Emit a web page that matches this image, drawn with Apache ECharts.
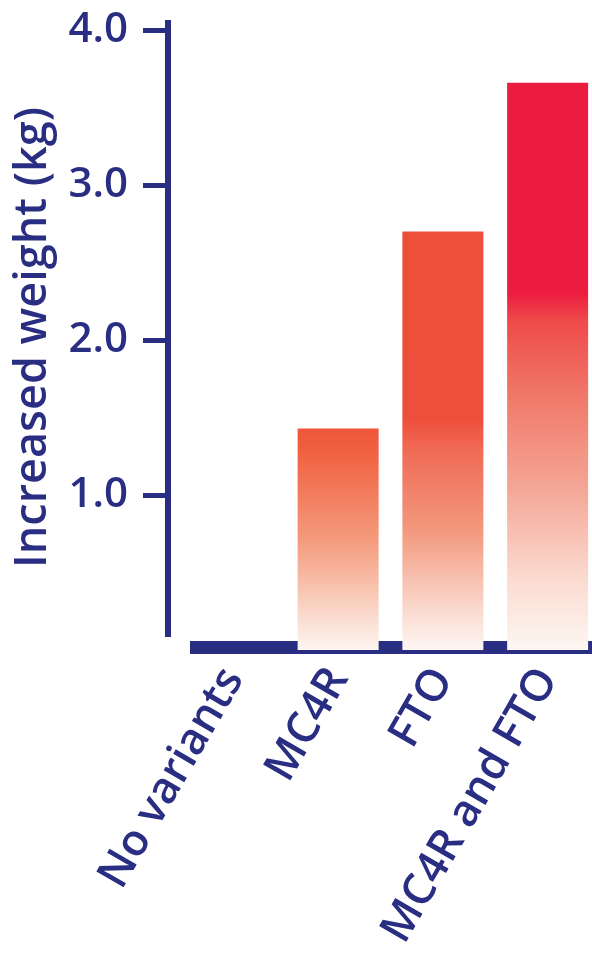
<!DOCTYPE html>
<html>
<head>
<meta charset="utf-8">
<script src="https://cdn.jsdelivr.net/npm/echarts@6/dist/echarts.min.js"></script>
<style>
html,body{margin:0;padding:0;background:#fff;}
#chart{width:592px;height:959px;}
</style>
</head>
<body>
<div id="chart"></div>
<script>
const categories = ['No variants', 'MC4R', 'FTO', 'MC4R and FTO'];
const weightGain = [0, 1.43, 2.70, 3.66];
const yTickValues = [1, 2, 3, 4];
const yAxisTitle = 'Increased weight (kg)';

const NAVY = '#2a2e82';
const FONT = '"Open Sans", "DejaVu Sans", sans-serif';

// gradient stops per bar (top -> bottom)
const barGradients = [
  [[0, '#ef553a'], [1, '#fdf7f3']],
  [[0, '#ef553a'], [0.1, '#f0603f'], [0.5, '#f49a7c'], [0.8, '#f9d2c2'], [1, '#fdf6f2']],
  [[0, '#ee4f3a'], [0.45, '#ee4f3c'], [0.52, '#f06a55'], [0.72, '#f39a80'], [0.9, '#fad8cc'], [1, '#fdf7f3']],
  [[0, '#ec1c40'], [0.37, '#ec1c40'], [0.42, '#ee4a4a'], [0.55, '#f07868'], [0.72, '#f4a898'], [0.88, '#fbdcd2'], [1, '#fdf7f3']]
];

const barData = weightGain.map((v, i) => ({
  value: v,
  itemStyle: {
    color: {
      type: 'linear', x: 0, y: 0, x2: 0, y2: 1,
      colorStops: barGradients[i].map(s => ({ offset: s[0], color: s[1] }))
    }
  }
}));

const chart = echarts.init(document.getElementById('chart'), null, { renderer: 'canvas' });
chart.setOption({
  backgroundColor: '#ffffff',
  animation: false,
  grid: [
    { left: 181, width: 419, top: 20, bottom: 309, outerBoundsMode: 'none', containLabel: false },  // main plot
    { left: 168, width: 1, top: 20, bottom: 322, outerBoundsMode: 'none', containLabel: false },    // y axis line + title
    { left: 190, right: 0, top: 600, bottom: 312, outerBoundsMode: 'none', containLabel: false }    // baseline band
  ],
  xAxis: [
    {
      gridIndex: 0, type: 'category', data: categories,
      axisLine: { show: false }, axisTick: { show: false },
      axisLabel: {
        rotate: 60, margin: 22, color: NAVY, fontFamily: FONT,
        fontSize: 44, fontWeight: 600, interval: 0
      }
    },
    { gridIndex: 1, type: 'value', show: false },
    {
      gridIndex: 2, type: 'value', position: 'bottom',
      axisLine: { show: true, lineStyle: { color: NAVY, width: 13, cap: 'butt' } },
      axisTick: { show: false }, axisLabel: { show: false }, splitLine: { show: false }
    }
  ],
  yAxis: [
    {
      gridIndex: 0, type: 'value', min: 0, max: 4.065, offset: 13,
      axisLine: { show: false },
      splitLine: { show: false },
      axisTick: {
        show: true, length: 25, customValues: yTickValues,
        lineStyle: { color: NAVY, width: 5 }
      },
      axisLabel: {
        customValues: yTickValues, margin: 40,
        formatter: v => v.toFixed(1),
        color: NAVY, fontFamily: FONT, fontSize: 42, fontWeight: 600
      }
    },
    {
      gridIndex: 1, type: 'value', min: 0, max: 1,
      name: yAxisTitle, nameLocation: 'middle', nameGap: 112, nameRotate: 90,
      nameTextStyle: { color: NAVY, fontFamily: FONT, fontSize: 45, fontWeight: 600, padding: [0, 18, 0, 0] },
      axisLine: { show: true, lineStyle: { color: NAVY, width: 6, cap: 'butt' } },
      axisTick: { show: false }, axisLabel: { show: false }, splitLine: { show: false }
    },
    { gridIndex: 2, type: 'value', show: false }
  ],
  series: [
    {
      type: 'bar', xAxisIndex: 0, yAxisIndex: 0,
      data: barData, barWidth: 81, z: 5
    }
  ]
});
</script>
</body>
</html>
